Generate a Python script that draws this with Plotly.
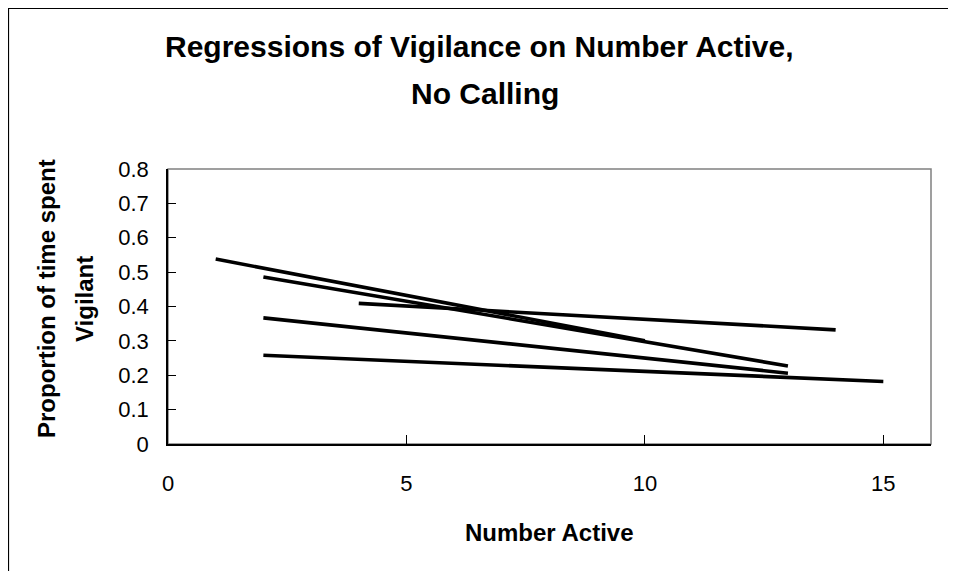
import plotly.graph_objects as go

# Regression line endpoints (Number Active, Proportion vigilant)
series_names = ["Group 1", "Group 2", "Group 3", "Group 4", "Group 5"]
x_start = [1, 2, 4, 2, 2]
x_end = [10, 13, 14, 13, 15]
y_start = [0.538, 0.486, 0.409, 0.367, 0.258]
y_end = [0.300, 0.227, 0.332, 0.206, 0.182]

x_ticks = [0, 5, 10, 15]
y_ticks = [0, 0.1, 0.2, 0.3, 0.4, 0.5, 0.6, 0.7, 0.8]
y_tick_labels = ["0", "0.1", "0.2", "0.3", "0.4", "0.5", "0.6", "0.7", "0.8"]

W, H = 956, 571
OFF = 8  # page body margin
L, R, T, B = 160, 33, 161, 135
pw, ph = W - L - R, H - T - B

def px_x(p):
    return (p - OFF - L) / pw

def px_y(p):
    return (H - B - (p - OFF)) / ph

fig = go.Figure()
for name, xs, xe, ys, ye in zip(series_names, x_start, x_end, y_start, y_end):
    fig.add_trace(go.Scatter(x=[xs, xe], y=[ys, ye], mode="lines", name=name,
                             line=dict(color="black", width=3.6), showlegend=False,
                             hoverinfo="skip"))

font_family = "Liberation Sans, Arial, sans-serif"

fig.update_layout(
    width=W, height=H,
    margin=dict(l=L, r=R, t=T, b=B),
    paper_bgcolor="white", plot_bgcolor="white",
    font=dict(family=font_family, color="black"),
    showlegend=False,
)
fig.update_xaxes(range=[0, 16], tickvals=x_ticks, ticks="inside", ticklen=9,
                 tickcolor="black", tickwidth=1, showgrid=False, zeroline=False,
                 showline=True, linecolor="black", linewidth=1.5,
                 tickfont=dict(size=22, family=font_family), ticklabelstandoff=19)
fig.update_yaxes(range=[0, 0.8], tickvals=y_ticks, ticktext=y_tick_labels,
                 ticks="inside", ticklen=8, tickcolor="black", tickwidth=1,
                 showgrid=False, zeroline=False, showline=True, linecolor="black",
                 linewidth=1.5, tickfont=dict(size=22, family=font_family),
                 ticklabelstandoff=13)

# plot area frame (gray top/right)
fig.add_shape(type="rect", xref="paper", yref="paper", x0=0, y0=0, x1=1, y1=1,
              line=dict(color="#808080", width=1.5), layer="below")
# outer chart frame
fig.add_shape(type="rect", xref="paper", yref="paper",
              x0=px_x(OFF + 0.5), y0=px_y(H + 20), x1=px_x(W + 20), y1=px_y(OFF + 0.5),
              line=dict(color="black", width=1.2), layer="below")

# Titles
fig.add_annotation(text="<b>Regressions of Vigilance on Number Active,</b>",
                   xref="paper", yref="paper", x=px_x(479), y=px_y(46),
                   showarrow=False, font=dict(size=30, family=font_family),
                   xanchor="center", yanchor="middle")
fig.add_annotation(text="<b>No Calling</b>",
                   xref="paper", yref="paper", x=px_x(485), y=px_y(93),
                   showarrow=False, font=dict(size=30, family=font_family),
                   xanchor="center", yanchor="middle")
fig.add_annotation(text="<b>Number Active</b>",
                   xref="paper", yref="paper", x=px_x(549), y=px_y(532),
                   showarrow=False, font=dict(size=24, family=font_family),
                   xanchor="center", yanchor="middle")
fig.add_annotation(text="<b>Proportion of time spent</b>",
                   xref="paper", yref="paper", x=px_x(46), y=px_y(299),
                   showarrow=False, textangle=-90, font=dict(size=24, family=font_family),
                   xanchor="center", yanchor="middle")
fig.add_annotation(text="<b>Vigilant</b>",
                   xref="paper", yref="paper", x=px_x(84), y=px_y(299),
                   showarrow=False, textangle=-90, font=dict(size=24, family=font_family),
                   xanchor="center", yanchor="middle")

fig.write_html("out.html")
